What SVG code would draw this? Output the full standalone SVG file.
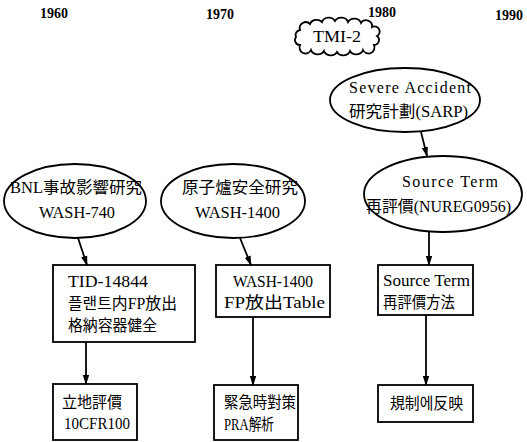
<svg xmlns="http://www.w3.org/2000/svg" width="527" height="442" viewBox="0 0 527 442">
<defs>
<marker id="ah" markerWidth="10" markerHeight="12" refX="9" refY="4" orient="auto" markerUnits="userSpaceOnUse">
<path d="M0,0.8 L10,4 L0,7.2 Z" fill="#000"/>
</marker>
<style>
.n{fill:#fff;stroke:#000;stroke-width:1.8}
.t{font-family:"Liberation Serif","Noto Sans CJK JP",serif;font-size:16px;fill:#000}
.y{font-family:"Liberation Serif",serif;font-size:14px;font-weight:bold;fill:#000}
.c{stroke:#000;stroke-width:1.8;fill:none;marker-end:url(#ah)}
</style>
</defs>
<rect width="527" height="442" fill="#fff"/>
<g id="years">
<text class="y" x="40" y="18">1960</text>
<text class="y" x="206" y="19">1970</text>
<text class="y" x="368" y="17">1980</text>
<text class="y" x="495" y="20">1990</text>
</g>
<g id="tmi2">
<path class="n" d="M300,30 A6,6 0 0 1 310,24 A7,6 0 0 1 322,22 A7,6 0 0 1 335,21 A7,6 0 0 1 348,22 A7,6 0 0 1 361,23 A6,6 0 0 1 372,27 A5,5 0 0 1 377,36 A5,5 0 0 1 374,45 A6,6 0 0 1 363,50 A7,6 0 0 1 350,51 A7,6 0 0 1 337,52 A7,6 0 0 1 324,51 A7,6 0 0 1 311,50 A6,6 0 0 1 300,45 A5,5 0 0 1 296,37 A5,5 0 0 1 300,30 Z"/>
<text class="t" x="313" y="42" textLength="48" lengthAdjust="spacingAndGlyphs">TMI-2</text>
</g>
<g id="sarp">
<ellipse class="n" cx="405" cy="100" rx="75" ry="32"/>
<text class="t" x="349" y="93" textLength="122" lengthAdjust="spacing">Severe Accident</text>
<text class="t" x="349" y="117" textLength="119" lengthAdjust="spacingAndGlyphs">研究計劃(SARP)</text>
</g>
<g id="nureg">
<ellipse class="n" cx="443" cy="194" rx="79" ry="38"/>
<text class="t" x="402" y="187" textLength="96" lengthAdjust="spacing">Source Term</text>
<text class="t" x="366" y="212" textLength="145" lengthAdjust="spacingAndGlyphs">再評價(NUREG0956)</text>
</g>
<g id="bnl">
<ellipse class="n" cx="75" cy="201" rx="71" ry="37"/>
<text class="t" x="10" y="193" textLength="132" lengthAdjust="spacingAndGlyphs">BNL事故影響研究</text>
<text class="t" x="39" y="218" textLength="76" lengthAdjust="spacingAndGlyphs">WASH-740</text>
</g>
<g id="wash1400e">
<ellipse class="n" cx="233" cy="201" rx="72" ry="37"/>
<text class="t" x="182" y="193" textLength="116" lengthAdjust="spacingAndGlyphs">原子爐安全研究</text>
<text class="t" x="195" y="218" textLength="85" lengthAdjust="spacingAndGlyphs">WASH-1400</text>
</g>
<g id="tid">
<rect class="n" x="53" y="265" width="142" height="77"/>
<text class="t" x="68" y="287" textLength="80" lengthAdjust="spacingAndGlyphs">TID-14844</text>
<text class="t" x="68" y="309" textLength="109" lengthAdjust="spacingAndGlyphs">플랜트内FP放出</text>
<text class="t" x="68" y="331" textLength="89" lengthAdjust="spacingAndGlyphs">格納容器健全</text>
</g>
<g id="wash1400b">
<rect class="n" x="216" y="265" width="114" height="52"/>
<text class="t" x="233" y="287" textLength="80" lengthAdjust="spacingAndGlyphs">WASH-1400</text>
<text class="t" x="224" y="308" textLength="101" lengthAdjust="spacingAndGlyphs">FP放出Table</text>
</g>
<g id="stmethod">
<rect class="n" x="378" y="265" width="95" height="50"/>
<text class="t" x="383" y="286" textLength="87" lengthAdjust="spacingAndGlyphs">Source Term</text>
<text class="t" x="383" y="308" textLength="72" lengthAdjust="spacingAndGlyphs">再評價方法</text>
</g>
<g id="siting">
<rect class="n" x="53" y="384" width="84" height="56"/>
<text class="t" x="62" y="408" textLength="60" lengthAdjust="spacingAndGlyphs">立地評價</text>
<text class="t" x="64" y="429" textLength="66" lengthAdjust="spacingAndGlyphs">10CFR100</text>
</g>
<g id="emergency">
<rect class="n" x="214" y="385" width="84" height="55"/>
<text class="t" x="224" y="408" textLength="72" lengthAdjust="spacingAndGlyphs">緊急時對策</text>
<text class="t" x="224" y="430" textLength="50" lengthAdjust="spacingAndGlyphs">PRA解析</text>
</g>
<g id="regulation">
<rect class="n" x="378" y="385" width="95" height="37"/>
<text class="t" x="390" y="409" textLength="73" lengthAdjust="spacingAndGlyphs">規制에反映</text>
</g>
<g id="connectors">
<line class="c" x1="78" y1="238" x2="87" y2="265"/>
<line class="c" x1="240" y1="238" x2="251" y2="265"/>
<line class="c" x1="421" y1="132" x2="427" y2="156"/>
<line class="c" x1="429" y1="232" x2="429" y2="265"/>
<line class="c" x1="86" y1="342" x2="86" y2="384"/>
<line class="c" x1="253" y1="317" x2="253" y2="385"/>
<line class="c" x1="426" y1="315" x2="426" y2="385"/>
</g>
</svg>
